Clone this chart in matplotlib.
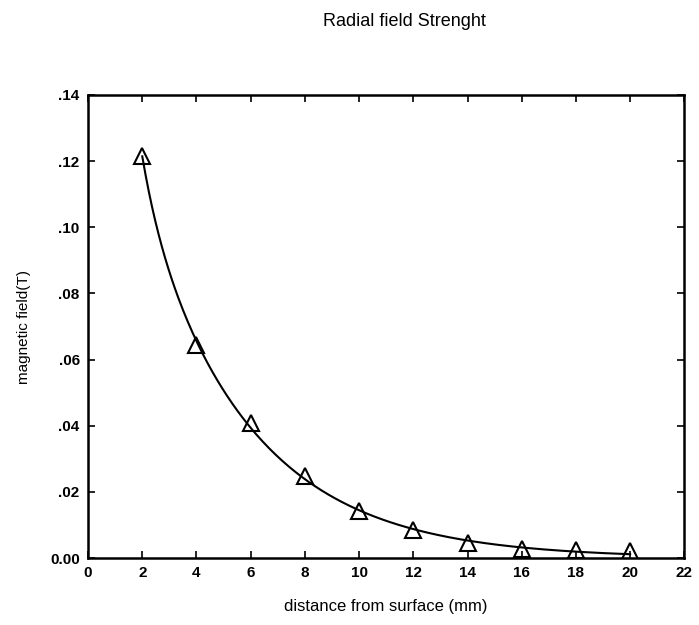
import numpy as np
import matplotlib
matplotlib.use("Agg")
import matplotlib.pyplot as plt

# distance from surface (mm) and measured radial field (T)
distance = [2, 4, 6, 8, 10, 12, 14, 16, 18, 20]
field = [0.1215, 0.0645, 0.0408, 0.0248, 0.0141, 0.0084, 0.0046, 0.0027, 0.0026, 0.0022]

x_ticks = [0, 2, 4, 6, 8, 10, 12, 14, 16, 18, 20, 22]
y_ticks = [0.0, 0.02, 0.04, 0.06, 0.08, 0.10, 0.12, 0.14]
y_labels = ["0.00", ".02", ".04", ".06", ".08", ".10", ".12", ".14"]

plt.rcParams["font.family"] = ["Liberation Sans", "DejaVu Sans"]

# double exponential fit: y = a*exp(-b1*x) + c*exp(-b2*x), rates by grid search
xd = np.array(distance, dtype=float)
yd = np.array(field)
best = None
for b1 in np.linspace(0.05, 1.5, 60):
    for b2 in np.linspace(0.01, 0.5, 50):
        A = np.column_stack([np.exp(-b1 * xd), np.exp(-b2 * xd)])
        c, *_ = np.linalg.lstsq(A, yd, rcond=None)
        err = np.sum((A @ c - yd) ** 2)
        if best is None or err < best[0]:
            best = (err, b1, b2, c)
_, b1, b2, c = best

fig = plt.figure(figsize=(6.99, 6.25), dpi=100)
ax = fig.add_axes([0.126, 0.107, 0.853, 0.741])

xs = np.linspace(xd.min(), xd.max(), 300)
ax.plot(xs, c[0] * np.exp(-b1 * xs) + c[1] * np.exp(-b2 * xs), color="black", lw=1.5)

ax.plot(distance, field, linestyle="none", marker="^", markersize=11,
        markerfacecolor="none", markeredgecolor="black", markeredgewidth=1.5)

ax.set_xlim(0, 22)
ax.set_ylim(0, 0.14)
ax.set_xticks(x_ticks)
ax.set_xticklabels([str(t) for t in x_ticks], fontsize=11, fontweight="bold")
ax.set_yticks(y_ticks)
ax.set_yticklabels(y_labels, fontsize=11, fontweight="bold")
ax.tick_params(direction="in", top=True, right=True, length=5, width=1.2, pad=6)
for s in ax.spines.values():
    s.set_linewidth(1.8)

ax.set_xlabel("distance from surface (mm)", fontsize=12, labelpad=13)
ax.set_ylabel("magnetic field(T)", fontsize=11, labelpad=14)
fig.text(0.578, 0.965, "Radial field Strenght", fontsize=13, ha="center", va="center")

fig.savefig("out.png", dpi=100)
